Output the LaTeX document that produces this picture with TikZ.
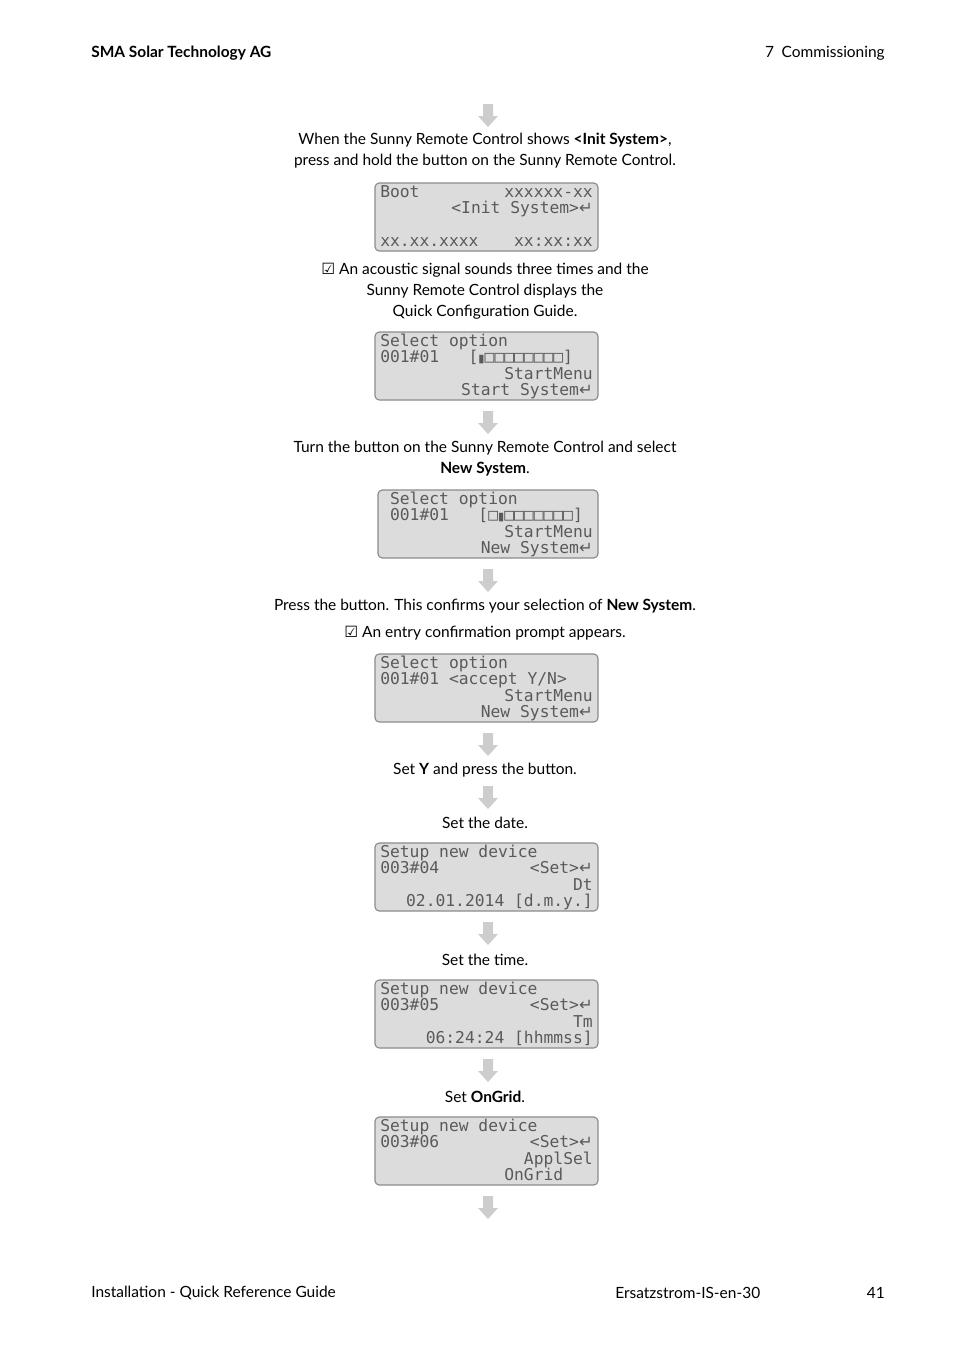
\documentclass[tikz,border=0pt]{standalone}
\usepackage{fontspec}
\setmainfont{Lato}
\newfontfamily\lcdfont{DejaVu Sans Mono}
\newfontfamily\symfont{DejaVu Sans}
\definecolor{lcdgray}{RGB}{220,220,220}
\definecolor{lcdtext}{RGB}{90,90,90}
\definecolor{arrowgray}{RGB}{205,205,205}
\tikzset{
	txt/.style={font=\fontsize{11}{15}\selectfont, align=center, inner sep=0pt},
	lcd/.style={draw=lcdtext!70, fill=lcdgray, rounded corners=3pt, line width=0.8pt},
	lcdl/.style={font=\lcdfont\fontsize{11.6}{11}\selectfont, text=lcdtext, inner sep=0pt, anchor=west, text height=7pt, text depth=1pt},
	lcdr/.style={lcdl, anchor=east},
}
% gray block arrow pointing down, top at y
\newcommand{\flowarrow}[1]{
	\fill[arrowgray] (483,#1) -- (493,#1) -- (493,#1+12) -- (498,#1+12)
		-- (488,#1+23) -- (478,#1+12) -- (483,#1+12) -- cycle;
}
\newcommand{\cursorbar}{{\fontsize{8}{8}\selectfont\symfont▮}}
% screen box with four lines, top at y
\newcommand{\screen}[7]{
	\draw[lcd] (#1,#2) rectangle (598,#2+68);
	\node[lcdl] at (380,#2+10) {#3};
	\node[lcdl] at (380,#2+26) {#4};
	\node[lcdr] at (593,#2+43) {#5};
	\node[lcdr] at (593,#2+59) {#6};
	#7
}
\begin{document}
\begin{tikzpicture}[x=0.025cm,y=-0.025cm]
	\useasboundingbox (0,0) rectangle (954,1350);
	\node[txt, anchor=west, font=\fontsize{11}{15}\selectfont\bfseries] (head) at (91,53) {SMA Solar Technology AG};
	\node[txt, anchor=east] (chap) at (885,53) {7\enspace Commissioning};
	\node[txt, anchor=west] (foot1) at (91,1293) {Installation - Quick Reference Guide};
	\node[txt, anchor=west] (foot2) at (615,1293) {Ersatzstrom-IS-en-30};
	\node[txt, anchor=east] (page) at (885,1293) {41};

	\flowarrow{104}
	\node[txt] (t1) at (485,151) {When the Sunny Remote Control shows \textbf{<Init System>},\\press and hold the button on the Sunny Remote Control.};

	\draw[lcd] (375,183) rectangle (598,251);
	\node[lcdl] (s1a) at (380,193) {Boot};
	\node[lcdr] (s1b) at (593,193) {xxxxxx-xx};
	\node[lcdr] (s1c) at (593,209) {<Init System>\symfont ↵};
	\node[lcdl] (s1d) at (380,242) {xx.xx.xxxx};
	\node[lcdr] (s1e) at (593,242) {xx:xx:xx};

	\node[txt] (t2) at (485,291) {{\symfont ☑} An acoustic signal sounds three times and the\\Sunny Remote Control displays the\\Quick Configuration Guide.};

	\screen{375}{332}{Select option}{001\#01\ \ \ [\cursorbar□□□□□□□□]}{StartMenu}{Start System{\symfont↵}}{}

	\flowarrow{411}
	\node[txt] (t3) at (485,459) {Turn the button on the Sunny Remote Control and select\\\textbf{New System}.};

	\screen{378}{490}{\ Select option}{\ 001\#01\ \ \ [□\cursorbar□□□□□□□]}{StartMenu}{New System{\symfont↵}}{}

	\flowarrow{569}
	\node[txt] (t4) at (485,606) {Press the button. This confirms your selection of \textbf{New System}.};
	\node[txt] (t5) at (485,633) {{\symfont ☑} An entry confirmation prompt appears.};

	\screen{375}{654}{Select option}{001\#01 <accept Y/N>}{StartMenu}{New System{\symfont↵}}{}

	\flowarrow{733}
	\node[txt] (t6) at (485,770) {Set \textbf{Y} and press the button.};
	\flowarrow{786}
	\node[txt] (t7) at (485,823) {Set the date.};

	\screen{375}{843}{Setup new device}{003\#04}{Dt}{02.01.2014 [d.m.y.]}{\node[lcdr] at (593,869) {<Set>{\symfont↵}};}

	\flowarrow{922}
	\node[txt] (t8) at (485,960) {Set the time.};

	\screen{375}{980}{Setup new device}{003\#05}{Tm}{06:24:24 [hhmmss]}{\node[lcdr] at (593,1006) {<Set>{\symfont↵}};}

	\flowarrow{1059}
	\node[txt] (t9) at (485,1097) {Set \textbf{OnGrid}.};

	\screen{375}{1117}{Setup new device}{003\#06}{ApplSel}{OnGrid\ \ \ \ }{\node[lcdr] at (593,1143) {<Set>{\symfont↵}};}

	\flowarrow{1196}
\end{tikzpicture}
\end{document}
